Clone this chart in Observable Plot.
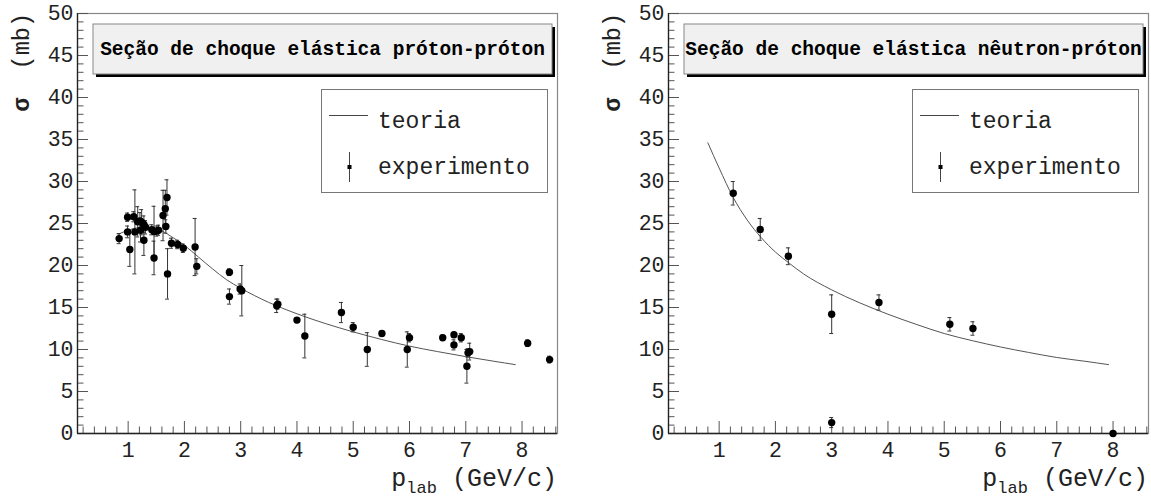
<!DOCTYPE html>
<html><head><meta charset="utf-8">
<script src="https://cdn.jsdelivr.net/npm/d3@7"></script>
<script src="https://cdn.jsdelivr.net/npm/@observablehq/plot@0.6"></script>
<style>
body{margin:0;background:#fff;}
#wrap{position:relative;width:1151px;height:499px;overflow:hidden;background:#fff;}
.panel{position:absolute;top:0;}
</style></head><body><div id="wrap"></div>
<script>
// ---- próton-próton ----
const ppX   = [0.84,0.99,0.99,1.03,1.10,1.12,1.17,1.21,1.24,1.22,1.28,1.28,1.31,1.42,1.46,1.46,1.51,1.54,1.62,1.66,1.67,1.69,1.70,1.77,1.88,1.98,2.19,2.22,2.80,2.80,2.99,3.02,3.64,3.66,4.00,4.14,4.79,5.00,5.25,5.51,5.96,6.00,6.59,6.79,6.79,6.92,7.02,7.07,7.04,8.10,8.49];
const ppY   = [23.2,25.75,24.0,21.9,25.8,24.0,25.2,25.3,25.15,24.2,24.9,23.0,24.55,24.25,20.9,24.05,24.1,24.2,25.95,26.75,24.65,28.1,19.0,22.65,22.5,22.05,22.2,19.9,19.2,16.3,17.2,17.0,15.2,15.4,13.5,11.6,14.4,12.65,10.0,11.9,10.0,11.4,11.4,11.75,10.55,11.4,8.0,9.75,9.6,10.75,8.8];
const ppErr = [0.6,0.5,0.7,2.0,0.6,5.0,1.8,1.0,1.5,1.4,1.0,1.8,0.8,0.6,2.0,3.0,0.6,0.6,3.0,2.2,0.8,2.1,3.0,0.6,0.5,0.5,3.4,0.9,0.4,0.9,0.6,3.0,0.8,0.6,0.3,2.6,1.2,0.55,2.0,0.3,2.1,0.5,0.3,0.3,0.6,0.5,2.0,1.0,0.5,0.4,0.4];
const ppTheoryX = [0.82,1.0,1.2,1.4,1.6,1.8,2.0,2.25,2.5,2.75,3.0,3.5,4.0,4.5,5.0,5.5,6.0,6.5,7.0,7.5,7.88];
const ppTheoryY = [23.7,24.2,24.5,24.5,24.1,23.3,22.4,21.0,19.6,18.3,17.3,15.6,14.25,13.1,12.1,11.2,10.4,9.75,9.15,8.6,8.2];
// ---- nêutron-próton ----
const npX   = [1.25,1.73,2.23,3.0,3.84,5.10,5.51,3.0,8.0];
const npY   = [28.6,24.3,21.1,14.2,15.6,13.0,12.5,1.3,0.0];
const npErr = [1.4,1.3,1.0,2.3,0.9,0.8,0.8,0.6,0];
const npTheoryX = [0.8,1.0,1.25,1.5,1.75,2.0,2.25,2.5,3.0,3.5,4.0,4.5,5.0,5.5,6.0,6.5,7.0,7.5,7.92];
const npTheoryY = [34.6,31.6,28.1,25.4,23.3,21.6,20.25,19.0,17.1,15.55,14.2,13.0,11.9,11.05,10.3,9.65,9.05,8.6,8.2];
// ---- axes ----
const xTicks = [1,2,3,4,5,6,7,8];
const xMinorTicks = [0.2,0.4,0.6,0.8,1.2,1.4,1.6,1.8,2.2,2.4,2.6,2.8,3.2,3.4,3.6,3.8,4.2,4.4,4.6,4.8,5.2,5.4,5.6,5.8,6.2,6.4,6.6,6.8,7.2,7.4,7.6,7.8,8.2,8.4,8.6];
const yTicks = [0,5,10,15,20,25,30,35,40,45,50];
const yMinorTicks = d3.range(0,51).filter(v => v % 5 !== 0);
const xDomain = [0.1, 8.63];
const yDomain = [0, 50];
const titles = ["Seção de choque elástica próton-próton", "Seção de choque elástica nêutron-próton"];
const legendLabels = ["teoria", "experimento"];
const yLabel = ["σ", "\u00a0\u00a0(mb)"];
const xLabel = ["p", "lab", "\u00a0(GeV/c)"];

const MONO = "'Liberation Mono', 'DejaVu Sans Mono', monospace";
const W = 560, H = 499, mL = 77, mR = 3, mT = 13, mB = 66;
const pw = W - mL - mR, ph = H - mT - mB;

function panel(title, px, py, pe, tx, ty) {
  const pts = px.map((x, i) => ({x, y: py[i], e: pe[i]}));
  const th = tx.map((x, i) => ({x, y: ty[i]}));
  const bars = pts.filter(d => d.e > 0);
  const svg = Plot.plot({
    width: W, height: H, marginLeft: mL, marginRight: mR, marginTop: mT, marginBottom: mB,
    x: {domain: xDomain}, y: {domain: yDomain},
    style: {fontFamily: MONO, background: "transparent", color: "#222", overflow: "visible"},
    marks: [
      Plot.frame({stroke: "#888", strokeWidth: 1.2}),
      Plot.tickX(xMinorTicks, {x: d => d, insetTop: ph - 6.5, stroke: "#555"}),
      Plot.tickX(xTicks, {x: d => d, insetTop: ph - 12, stroke: "#555"}),
      Plot.tickY(yMinorTicks, {y: d => d, insetRight: pw - 6.5, stroke: "#555"}),
      Plot.tickY(yTicks, {y: d => d, insetRight: pw - 11, stroke: "#555"}),
      Plot.ruleX([xDomain[0]], {stroke: "#222", strokeWidth: 1.3}),
      Plot.ruleY([yDomain[0]], {stroke: "#222", strokeWidth: 1.3}),
      Plot.axisX({ticks: xTicks, tickSize: 0, tickPadding: 8, fontSize: 21.5, label: null, tickFormat: d => String(d)}),
      Plot.axisY({ticks: yTicks, tickSize: 0, tickPadding: 4, fontSize: 21.5, label: null, tickFormat: d => String(d)}),
      Plot.line(th, {x: "x", y: "y", stroke: "#555", strokeWidth: 1, curve: "monotone-x"}),
      Plot.ruleX(bars, {x: "x", y1: d => d.y - d.e, y2: d => d.y + d.e, stroke: "#333", strokeWidth: 1}),
      Plot.ruleY(bars, {y: d => d.y + d.e, x1: d => d.x - 0.035, x2: d => d.x + 0.035, stroke: "#333"}),
      Plot.ruleY(bars, {y: d => d.y - d.e, x1: d => d.x - 0.035, x2: d => d.x + 0.035, stroke: "#333"}),
      Plot.dot(pts, {x: "x", y: "y", r: 3.7, fill: "#000", stroke: "none"})
    ]
  });
  const s = d3.select(svg);
  const g = s.append("g").attr("font-family", MONO).attr("text-anchor", "start");
  // title box with shadow
  g.append("rect").attr("x", 96).attr("y", 27).attr("width", 459).attr("height", 50).attr("fill", "#000");
  g.append("rect").attr("x", 93).attr("y", 24).attr("width", 459).attr("height", 50).attr("fill", "#f0f0f0").attr("stroke", "#888").attr("stroke-width", 1);
  g.append("text").attr("x", 93 + 459 / 2).attr("y", 55).attr("text-anchor", "middle")
    .attr("font-size", 19.5).attr("font-weight", "bold").attr("fill", "#000").text(title);
  // legend
  g.append("rect").attr("x", 321.5).attr("y", 89.5).attr("width", 226).attr("height", 103).attr("fill", "#fff").attr("stroke", "#777");
  g.append("line").attr("x1", 329).attr("x2", 368).attr("y1", 115.5).attr("y2", 115.5).attr("stroke", "#444");
  g.append("text").attr("x", 378).attr("y", 128).attr("text-anchor", "start").attr("font-size", 23).attr("fill", "#222").text(legendLabels[0]);
  g.append("line").attr("x1", 349.5).attr("x2", 349.5).attr("y1", 152).attr("y2", 182).attr("stroke", "#444");
  g.append("rect").attr("x", 347.5).attr("y", 165).attr("width", 4).attr("height", 4).attr("fill", "#000");
  g.append("text").attr("x", 378).attr("y", 174).attr("text-anchor", "start").attr("font-size", 23).attr("fill", "#222").text(legendLabels[1]);
  // y label
  const yl = g.append("text").attr("transform", "translate(29,13) rotate(-90)").attr("text-anchor", "end")
    .attr("font-size", 23.5).attr("fill", "#222");
  yl.append("tspan").attr("font-weight", "bold").text(yLabel[0]);
  yl.append("tspan").text(yLabel[1]);
  // x label
  const xl = g.append("text").attr("x", 557).attr("y", 486).attr("text-anchor", "end").attr("fill", "#222").attr("font-size", 25);
  xl.append("tspan").text(xLabel[0]);
  xl.append("tspan").attr("font-size", 17).attr("dy", 7).text(xLabel[1]);
  xl.append("tspan").attr("dy", -7).text(xLabel[2]);
  return svg;
}

const wrap = document.getElementById("wrap");
const p1 = panel(titles[0], ppX, ppY, ppErr, ppTheoryX, ppTheoryY);
const p2 = panel(titles[1], npX, npY, npErr, npTheoryX, npTheoryY);
const d1 = document.createElement("div"); d1.className = "panel"; d1.style.left = "0px"; d1.appendChild(p1);
const d2 = document.createElement("div"); d2.className = "panel"; d2.style.left = "591px"; d2.appendChild(p2);
wrap.appendChild(d1); wrap.appendChild(d2);
</script></body></html>
